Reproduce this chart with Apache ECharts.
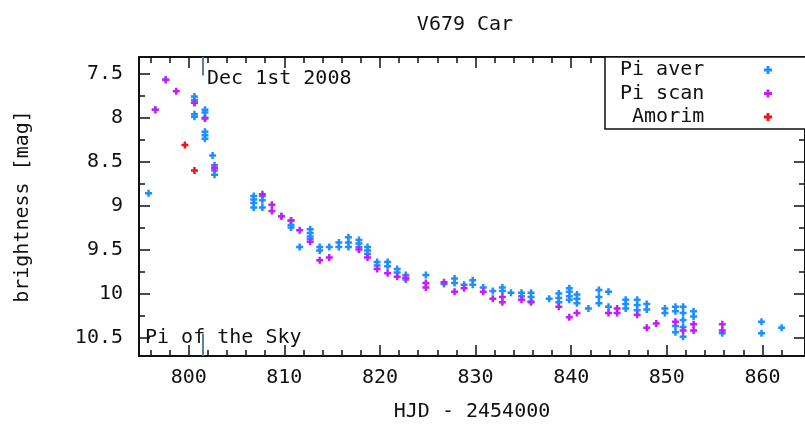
<!DOCTYPE html>
<html>
<head>
<meta charset="utf-8">
<script src="https://cdn.jsdelivr.net/npm/echarts@6/dist/echarts.min.js"></script>
<style>
  html, body { margin: 0; padding: 0; background: #fff; }
  #chart { width: 805px; height: 427px; }
</style>
</head>
<body>
<div id="chart"></div>
<script>
// HJD - 2454000, brightness [mag]
var piAver = [
  [795.8, 8.86], [796.5, 7.91], [797.6, 7.57],
  [800.6, 7.76], [800.6, 7.80], [800.6, 7.83], [800.6, 7.96], [800.6, 7.99],
  [801.7, 7.91], [801.7, 7.94], [801.7, 8.00], [801.7, 8.16], [801.7, 8.20], [801.7, 8.24],
  [802.5, 8.43], [802.7, 8.54], [802.7, 8.60], [802.7, 8.65],
  [806.8, 8.89], [806.8, 8.93], [806.8, 8.97], [806.8, 9.02],
  [807.7, 8.89], [807.7, 8.94], [807.7, 9.02],
  [809.7, 9.12], [810.7, 9.17], [810.7, 9.22], [810.7, 9.25], [811.6, 9.47],
  [812.7, 9.27], [812.7, 9.31], [812.7, 9.35], [812.7, 9.38],
  [813.7, 9.47], [813.7, 9.51], [814.7, 9.47], [815.7, 9.42], [815.7, 9.47],
  [816.7, 9.36], [816.7, 9.42], [816.7, 9.47], [817.8, 9.39], [817.8, 9.43], [817.8, 9.47],
  [818.7, 9.47], [818.7, 9.51], [818.7, 9.55], [819.7, 9.64], [819.7, 9.68],
  [820.8, 9.64], [820.8, 9.69], [821.8, 9.72], [821.8, 9.76], [822.7, 9.79], [822.7, 9.84],
  [824.8, 9.79], [826.7, 9.89], [827.8, 9.83], [827.8, 9.88], [828.8, 9.90],
  [829.7, 9.85], [829.7, 9.90], [830.8, 9.93], [831.8, 9.97], [832.8, 9.93], [832.8, 9.97],
  [833.7, 9.99], [834.8, 9.99], [834.8, 10.03], [835.8, 9.99], [835.8, 10.04], [835.8, 10.09],
  [837.7, 10.06], [838.7, 10.00], [838.7, 10.05], [838.7, 10.10],
  [839.8, 9.94], [839.8, 9.98], [839.8, 10.03], [839.8, 10.07],
  [840.6, 10.01], [840.6, 10.06], [840.6, 10.11], [841.8, 10.17],
  [842.9, 9.96], [842.9, 10.04], [842.9, 10.11], [843.9, 9.98], [843.9, 10.15],
  [845.7, 10.07], [845.7, 10.12], [845.7, 10.17], [846.9, 10.07], [846.9, 10.13], [846.9, 10.19],
  [847.9, 10.12], [847.9, 10.18], [849.8, 10.17], [849.8, 10.22],
  [850.9, 10.15], [850.9, 10.20], [850.9, 10.37], [850.9, 10.44],
  [851.7, 10.15], [851.7, 10.22], [851.7, 10.30], [851.7, 10.38], [851.7, 10.49],
  [852.8, 10.20], [852.8, 10.26], [855.8, 10.45], [859.9, 10.32], [859.9, 10.45], [862.0, 10.39]
];
var piScan = [
  [796.5, 7.91], [797.6, 7.57], [798.7, 7.70], [800.6, 7.83], [801.7, 8.01], [802.7, 8.57],
  [807.7, 8.87], [808.7, 8.99], [808.7, 9.06], [809.7, 9.12], [810.7, 9.17], [811.6, 9.28],
  [812.7, 9.41], [813.7, 9.62], [814.7, 9.59], [817.8, 9.50], [818.7, 9.59], [819.7, 9.72],
  [820.8, 9.77], [821.8, 9.81], [822.7, 9.82], [824.8, 9.88], [824.8, 9.93], [826.7, 9.87],
  [827.8, 9.98], [828.8, 9.94], [830.8, 9.98], [831.8, 10.06], [832.8, 10.04], [832.8, 10.10],
  [834.8, 10.07], [835.8, 10.10], [838.7, 10.15], [839.8, 10.27], [840.6, 10.22],
  [843.9, 10.22], [844.8, 10.17], [844.8, 10.22], [846.9, 10.24], [847.9, 10.39], [848.9, 10.34],
  [850.9, 10.32], [851.7, 10.42], [852.8, 10.35], [852.8, 10.42], [855.8, 10.35], [855.8, 10.42]
];
var amorim = [[799.6, 8.31], [800.6, 8.60]];

var xTicks = [800, 810, 820, 830, 840, 850, 860];
var yTicks = [7.5, 8, 8.5, 9, 9.5, 10, 10.5];
var xMin = 794.8, xMax = 864.45;
var yMin = 7.31, yMax = 10.71;
var decFirst = 801.5;

var xMinor = [];
for (var i = 796; i < 864; i += 2) xMinor.push(i);
var yMinor = [];
for (var j = 7.5; j <= 10.5; j += 0.25) yMinor.push(j);

var font = 'DejaVu Sans Mono';
var ink = '#111';
var plus = 'path://M2.25,0H4.75V2.25H7V4.75H4.75V7H2.25V4.75H0V2.25H2.25Z';

function xAxis(pos, ticks, len, main) {
  return {
    type: 'value', position: pos, min: xMin, max: xMax,
    axisLine: { show: main, onZero: false, lineStyle: { color: ink, width: 2 } },
    axisTick: { show: true, inside: true, length: len, customValues: ticks, lineStyle: { color: ink, width: 1.5 } },
    axisLabel: { show: main && pos == 'bottom', customValues: xTicks, margin: 12, color: ink, fontFamily: font, fontSize: 20 },
    splitLine: { show: false }
  };
}
function yAxis(pos, ticks, len, main) {
  return {
    type: 'value', position: pos, min: yMin, max: yMax, inverse: true,
    axisLine: { show: main, onZero: false, lineStyle: { color: ink, width: 2 } },
    axisTick: { show: true, inside: true, length: len, customValues: ticks, lineStyle: { color: ink, width: 1.5 } },
    axisLabel: { show: main && pos == 'left', customValues: yTicks, margin: 16, color: ink, fontFamily: font, fontSize: 20 },
    splitLine: { show: false }
  };
}

var xs = [xAxis('bottom', xTicks, 11, true), xAxis('bottom', xMinor, 6, false),
          xAxis('top', xTicks, 11, true), xAxis('top', xMinor, 6, false)];
xs[0].name = 'HJD - 2454000';
xs[0].nameLocation = 'middle';
xs[0].nameGap = 46;
xs[0].nameTextStyle = { color: ink, fontFamily: font, fontSize: 20 };

var ys = [yAxis('left', yTicks, 11, true), yAxis('left', yMinor, 6, false),
          yAxis('right', yTicks, 11, true), yAxis('right', yMinor, 6, false)];
ys[0].name = 'brightness [mag]';
ys[0].nameLocation = 'middle';
ys[0].nameGap = 106;
ys[0].nameTextStyle = { color: ink, fontFamily: font, fontSize: 20 };

var chart = echarts.init(document.getElementById('chart'));
chart.setOption({
  animation: false,
  backgroundColor: '#fff',
  title: {
    text: 'V679 Car', left: 460, top: 10, textAlign: 'center',
    textStyle: { color: ink, fontFamily: font, fontSize: 20, fontWeight: 'normal' }
  },
  grid: { left: 139, right: -4, top: 57, bottom: 67 },
  xAxis: xs,
  yAxis: ys,
  legend: {
    orient: 'vertical', left: 605, top: 57, align: 'right',
    padding: [3, 40, 2, 15], itemGap: 3.5, itemWidth: 8, itemHeight: 8,
    backgroundColor: '#fff', borderColor: ink, borderWidth: 1.5, borderRadius: 0,
    data: [{ name: 'Pi aver', icon: plus }, { name: 'Pi scan', icon: plus }, { name: 'Amorim', icon: plus }],
    formatter: function (name) { return '{t|' + (name == 'Amorim' ? ' Amorim' : name) + '}'; },
    textStyle: {
      color: ink, fontFamily: font, fontSize: 20, lineHeight: 20,
      rich: { t: { width: 139, align: 'left', color: ink, fontFamily: font, fontSize: 20, lineHeight: 20 } }
    }
  },
  graphic: [
    { type: 'text', left: 207, top: 69, z: 10,
      style: { text: 'Dec 1st 2008', fill: ink, font: '20px "DejaVu Sans Mono"' } },
    { type: 'text', left: 145, top: 328, z: 10,
      style: { text: 'Pi of the Sky', fill: ink, font: '20px "DejaVu Sans Mono"' } }
  ],
  series: [
    {
      name: 'Pi aver', type: 'scatter', data: piAver, symbol: plus, symbolSize: 7,
      itemStyle: { color: '#1e8fff', opacity: 1 },
      markLine: {
        silent: true, symbol: 'none', label: { show: false },
        lineStyle: { color: '#5b7f9f', width: 2, type: 'solid' },
        data: [
          [{ coord: [decFirst, yMin] }, { coord: [decFirst, 7.52] }],
          [{ coord: [decFirst, 10.46] }, { coord: [decFirst, yMax] }]
        ]
      }
    },
    { name: 'Pi scan', type: 'scatter', data: piScan, symbol: plus, symbolSize: 7,
      itemStyle: { color: '#c41cff', opacity: 1 } },
    { name: 'Amorim', type: 'scatter', data: amorim, symbol: plus, symbolSize: 7,
      itemStyle: { color: '#ff1010', opacity: 1 } }
  ]
});
</script>
</body>
</html>
